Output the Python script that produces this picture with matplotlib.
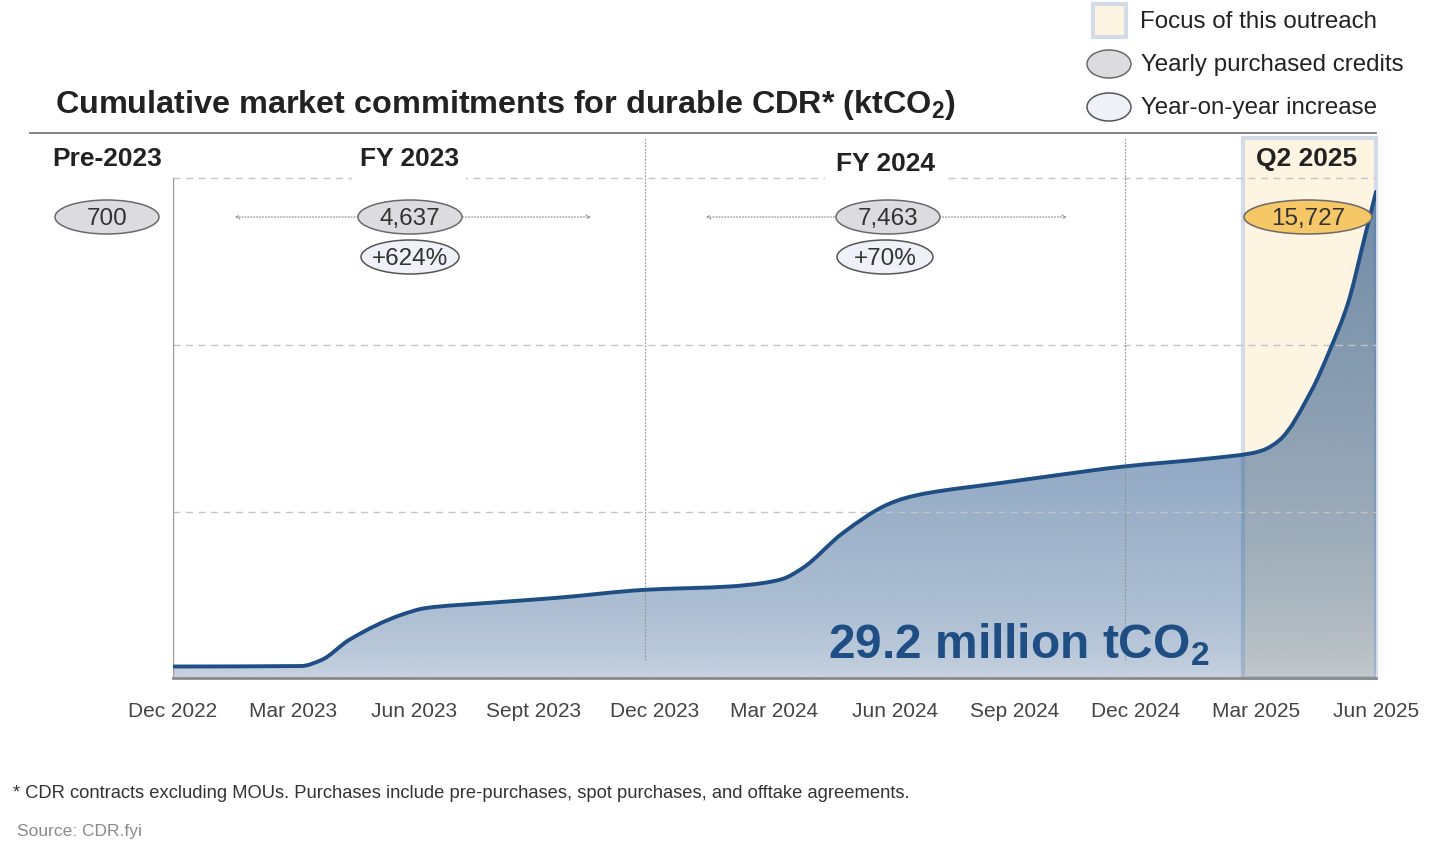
import numpy as np
import matplotlib
matplotlib.use("Agg")
from matplotlib import pyplot as plt
from matplotlib.patches import Ellipse, Rectangle, FancyArrowPatch, PathPatch
from matplotlib.path import Path

# Data (months since Dec 2022, cumulative ktCO2 in thousands)
months = [0, 3.2, 3.7, 4.4, 5.7, 6.3, 7.8, 9.5, 11.8, 13.9, 14.7, 15.2, 15.7, 16.7,
          17.8, 18.25, 18.8, 20.6, 21.8, 23.7, 25.9, 26.9, 27.2, 27.6, 28.4,
          28.85, 29.3, 29.7, 30]
cumulative = [0.69, 0.72, 1.08, 2.3, 3.8, 4.2, 4.5, 4.8, 5.3, 5.5, 5.7, 5.95, 6.6, 8.7,
              10.4, 10.8, 11.1, 11.7, 12.1, 12.7, 13.2, 13.5, 13.7, 14.3, 17.3,
              19.7, 22.5, 26.3, 29.2]

tick_labels = ['Dec 2022', 'Mar 2023', 'Jun 2023', 'Sept 2023', 'Dec 2023', 'Mar 2024',
               'Jun 2024', 'Sep 2024', 'Dec 2024', 'Mar 2025', 'Jun 2025']
periods = ['Pre-2023', 'FY 2023', 'FY 2024', 'Q2 2025']
yearly = ['700', '4,637', '7,463', '15,727']
yoy = ['+624%', '+70%']

W, H = 1431, 855
def fx(x): return x / W
def fy(y): return 1 - y / H


def smooth_path(x, y):
    # monotone cubic through the read points, drawn as bezier segments
    x = np.asarray(x, float)
    y = np.asarray(y, float)
    h = np.diff(x)
    d = np.diff(y) / h
    m = np.zeros(len(x))
    m[0], m[-1] = d[0], d[-1]
    for i in range(1, len(x) - 1):
        if d[i - 1] * d[i] <= 0:
            m[i] = 0
        else:
            w1 = 2 * h[i] + h[i - 1]
            w2 = h[i] + 2 * h[i - 1]
            m[i] = (w1 + w2) / (w1 / d[i - 1] + w2 / d[i])
    verts = [(x[0], y[0])]
    codes = [Path.MOVETO]
    for i in range(len(h)):
        verts += [(x[i] + h[i] / 3, y[i] + m[i] * h[i] / 3),
                  (x[i + 1] - h[i] / 3, y[i + 1] - m[i + 1] * h[i] / 3),
                  (x[i + 1], y[i + 1])]
        codes += [Path.CURVE4] * 3
    return verts, codes


plt.rcParams['font.family'] = ['Liberation Sans', 'DejaVu Sans']
plt.rcParams['mathtext.fontset'] = 'custom'
plt.rcParams['mathtext.rm'] = 'Liberation Sans'
plt.rcParams['mathtext.bf'] = 'Liberation Sans:bold'

blue = '#1f4e85'
txt = '#222222'

fig = plt.figure(figsize=(W / 100, H / 100), dpi=100)
ytop = (678 - 133) / 16.65
ax = fig.add_axes([fx(173), fy(678), (1376 - 173) / W, (678 - 133) / H])

# highlight for Q2 2025
q2_left = (1243 - 173) / 40.1
ax.add_patch(Rectangle((q2_left, 0), 30 - q2_left, (678 - 138) / 16.65, facecolor='#fdf4e2',
                       edgecolor='#d3dbe8', lw=3, zorder=1, clip_on=False))

# gradient area under curve
vals = np.linspace(0, ytop, 300)[:, None]
alpha = np.clip(0.245 + 0.375 * (vals / 28) ** 0.6, 0, 0.7)
rgba = np.zeros((300, 1, 4))
rgba[..., :3] = matplotlib.colors.to_rgb(blue)
rgba[..., 3] = alpha
im = ax.imshow(rgba, extent=[0, 30, 0, ytop], origin='lower', aspect='auto', zorder=2,
               interpolation='bilinear')

verts, codes = smooth_path(months, cumulative)
area = Path(verts + [(months[-1], 0), (months[0], 0), (months[0], 0)],
            codes + [Path.LINETO, Path.LINETO, Path.CLOSEPOLY])
im.set_clip_path(area, transform=ax.transData)
ax.add_patch(PathPatch(Path(verts, codes), fill=False, edgecolor=blue, lw=2.8, zorder=5,
                       capstyle='round'))

# grid, axes lines, separators
for g in [10, 20, 30]:
    ax.plot([0, 30], [g, g], color='#c4c4c4', lw=1, ls=(0, (5, 4)), zorder=3)
ax.plot([0, 0], [0, 30], color='#9a9a9a', lw=1, zorder=4)
ax.plot([0, 30], [0, 0], color='#8a8a8a', lw=2, zorder=6, clip_on=False)
for sep in [11.77, 23.74]:
    ax.plot([sep, sep], [1.08, (678 - 138) / 16.65], color='#8d8d8d', lw=0.8,
            ls=(0, (1.5, 1.5)), zorder=3, clip_on=False)

ax.set_xlim(0, 30)
ax.set_ylim(0, ytop)
ax.set_xticks(range(0, 31, 3))
ax.set_xticklabels(tick_labels)
ax.set_yticks([])
ax.tick_params(axis='x', length=0, pad=17, labelsize=15, labelcolor='#444444')
for s in ax.spines.values():
    s.set_visible(False)

# top rule and title
fig.add_artist(plt.Line2D([fx(30), fx(1376)], [fy(133), fy(133)], color='#7a7a7a', lw=1.3))
fig.text(fx(55), fy(105), r'Cumulative market commitments for durable CDR* (ktCO$_\mathbf{2}$)',
         fontsize=23.3, fontweight='bold', color=txt, va='center', ha='left')

# white gaps in the top gridline behind FY labels
for x0, x1 in [(352, 466), (825, 945)]:
    fig.add_artist(Rectangle((fx(x0), fy(183)), (x1 - x0) / W, 44 / H,
                             transform=fig.transFigure, facecolor='white', edgecolor='none',
                             zorder=3))

# period labels
period_pos = [(107, 159), (410, 159), (885, 164), (1307, 159)]
for lab, (x, y) in zip(periods, period_pos):
    fig.text(fx(x), fy(y), lab, fontsize=19, fontweight='bold', color=txt,
             ha='center', va='center', zorder=4)

# arrows spanning years
for x0, x1 in [(232, 594), (703, 1070)]:
    fig.add_artist(FancyArrowPatch((fx(x0), fy(217)), (fx(x1), fy(217)), arrowstyle='<->',
                                   mutation_scale=7, color='#8a8a8a', lw=0.8, ls=':',
                                   transform=fig.transFigure, zorder=4))

# value ellipses
yearly_pos = [(107, 217, 104), (410, 217, 104), (888, 217, 104), (1308, 217, 128)]
for i, (lab, (x, y, w)) in enumerate(zip(yearly, yearly_pos)):
    fc = '#f5c766' if i == 3 else '#dcdce0'
    fig.add_artist(Ellipse((fx(x), fy(y)), w / W, 34 / H, transform=fig.transFigure,
                           facecolor=fc, edgecolor='#6a6a6a', lw=1.1, zorder=6))
    fig.text(fx(x), fy(y + 2), lab, fontsize=17.5, color='#333333', ha='center',
             va='center', zorder=7)
yoy_pos = [(410, 257, 98), (885, 257, 96)]
for lab, (x, y, w) in zip(yoy, yoy_pos):
    fig.add_artist(Ellipse((fx(x), fy(y)), w / W, 34 / H, transform=fig.transFigure,
                           facecolor='#eef2f8', edgecolor='#555555', lw=1.1, zorder=6))
    fig.text(fx(x), fy(y + 2), lab, fontsize=17.5, color='#333333', ha='center',
             va='center', zorder=7)

# legend
fig.add_artist(Rectangle((fx(1093), fy(37)), 33 / W, 33 / H, transform=fig.transFigure,
                         facecolor='#fdf4e2', edgecolor='#d3dbe8', lw=3))
fig.text(fx(1140), fy(22), 'Focus of this outreach', fontsize=17.4, color=txt, va='center')
fig.add_artist(Ellipse((fx(1109), fy(64)), 44 / W, 28 / H, transform=fig.transFigure,
                       facecolor='#dcdce0', edgecolor='#6a6a6a', lw=1.1))
fig.text(fx(1141), fy(65), 'Yearly purchased credits', fontsize=17.4, color=txt, va='center')
fig.add_artist(Ellipse((fx(1109), fy(107)), 44 / W, 28 / H, transform=fig.transFigure,
                       facecolor='#eef2f8', edgecolor='#555555', lw=1.1))
fig.text(fx(1141), fy(108), 'Year-on-year increase', fontsize=17.4, color=txt, va='center')

# headline total
fig.text(fx(828), fy(658), r'29.2 million tCO$_\mathbf{2}$', fontsize=34.5, fontweight='bold',
         color=blue, ha='left', va='baseline', zorder=8)

# footnotes
fig.text(fx(13), fy(793), '* CDR contracts excluding MOUs. Purchases include pre-purchases, '
         'spot purchases, and offtake agreements.', fontsize=13.2, color='#333333', va='center')
fig.text(fx(17), fy(831), 'Source: CDR.fyi', fontsize=12.5, color='#8a8a8a', va='center')

fig.savefig('out.png', dpi=100)
